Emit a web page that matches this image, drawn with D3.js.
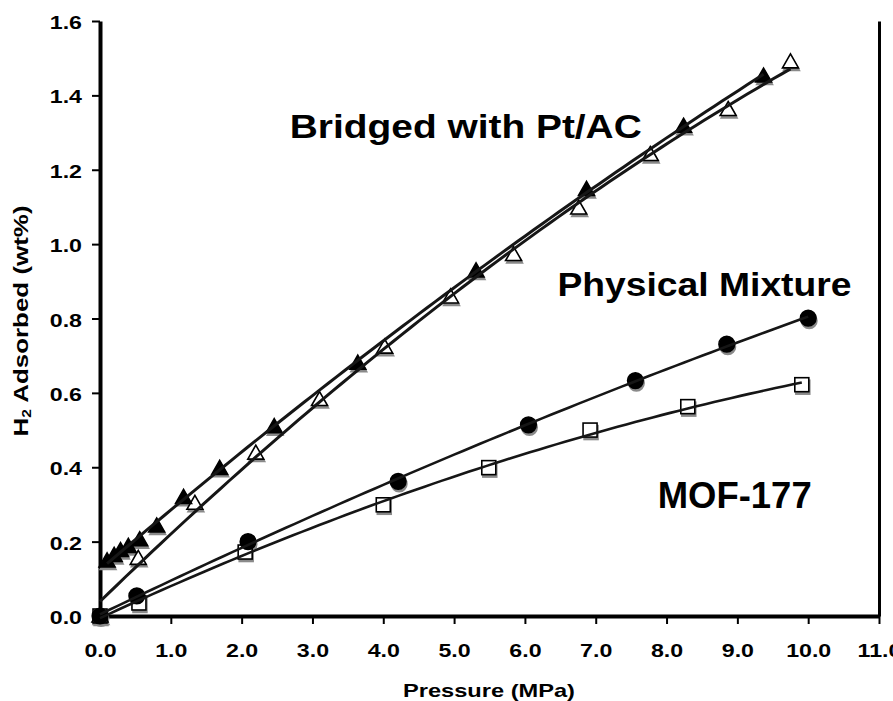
<!DOCTYPE html>
<html>
<head>
<meta charset="utf-8">
<script src="https://cdn.jsdelivr.net/npm/d3@7"></script>
<style>
  body { margin: 0; background: #fff; }
  svg { display: block; }
  text { font-family: "Liberation Sans", Arial, Helvetica, sans-serif; font-weight: bold; fill: #000; }
</style>
</head>
<body>
<svg id="chart" width="893" height="701"></svg>
<script>
// Hydrogen uptake isotherms: pressure (MPa) vs. H2 adsorbed (wt%)

const pressureTicks = [0, 1, 2, 3, 4, 5, 6, 7, 8, 9, 10, 11];
const uptakeTicks = [0, 0.2, 0.4, 0.6, 0.8, 1.0, 1.2, 1.4, 1.6];

// Bridged with Pt/AC, filled triangles
const bridgedAP = [0.10, 0.20, 0.29, 0.40, 0.56, 0.80, 1.18, 1.69, 2.46, 3.64, 5.31, 6.87, 8.24, 9.37];
const bridgedAW = [0.148, 0.163, 0.176, 0.187, 0.205, 0.242, 0.319, 0.397, 0.509, 0.680, 0.928, 1.147, 1.317, 1.452];

// Bridged with Pt/AC, open triangles
const bridgedBP = [0, 0.54, 1.34, 2.20, 3.10, 4.02, 4.95, 5.84, 6.76, 7.77, 8.87, 9.75];
const bridgedBW = [0, 0.155, 0.303, 0.438, 0.582, 0.723, 0.858, 0.972, 1.097, 1.241, 1.362, 1.490];

// Physical mixture, filled circles
const mixtureP = [0, 0.52, 2.09, 4.21, 6.05, 7.56, 8.85, 10.0];
const mixtureW = [0, 0.054, 0.200, 0.362, 0.514, 0.633, 0.731, 0.801];

// MOF-177, open squares
const mofP = [0, 0.55, 2.05, 4.00, 5.49, 6.92, 8.30, 9.91];
const mofW = [0, 0.035, 0.172, 0.299, 0.399, 0.500, 0.563, 0.622];

// Text labels placed in data coordinates
const labelText = ["Bridged with Pt/AC", "Physical Mixture", "MOF-177"];
const labelP = [2.68, 6.46, 7.875];
const labelW = [1.285, 0.860, 0.290];

const svg = d3.select("#chart");
const x = d3.scaleLinear().domain([0, 11]).range([100, 879]);
const y = d3.scaleLinear().domain([0, 1.6]).range([616, 21]);

// Stretch a text node horizontally by factor k (the typeface used here is wide)
function widen(sel, k) {
  sel.each(function () {
    const w = this.getComputedTextLength();
    d3.select(this).attr("textLength", w * k).attr("lengthAdjust", "spacingAndGlyphs");
  });
}

// Quadratic least-squares fit, returns f(p)
function quadFit(xs, ys) {
  let s = [0, 0, 0, 0, 0], t = [0, 0, 0];
  xs.forEach((xv, i) => {
    let p = 1;
    for (let k = 0; k < 5; k++) { s[k] += p; if (k < 3) t[k] += p * ys[i]; p *= xv; }
  });
  const M = [[s[0], s[1], s[2]], [s[1], s[2], s[3]], [s[2], s[3], s[4]]];
  const det = m => m[0][0] * (m[1][1] * m[2][2] - m[1][2] * m[2][1])
                 - m[0][1] * (m[1][0] * m[2][2] - m[1][2] * m[2][0])
                 + m[0][2] * (m[1][0] * m[2][1] - m[1][1] * m[2][0]);
  const D = det(M);
  const c = [0, 1, 2].map(j => det(M.map((row, r) => row.map((v, cidx) => cidx === j ? t[r] : v))) / D);
  return p => c[0] + c[1] * p + c[2] * p * p;
}

// ---- axes ----
const gx = svg.append("g").attr("transform", `translate(0,${y(0)})`)
  .call(d3.axisBottom(x).tickValues(pressureTicks).tickFormat(d3.format(".1f")).tickSize(8).tickSizeOuter(0));
gx.select(".domain").attr("stroke", "#000").attr("stroke-width", 4);
gx.selectAll(".tick line").attr("stroke", "#000").attr("stroke-width", 2);
gx.selectAll(".tick text").attr("y", 41).attr("dy", null)
  .style("font-size", "19px").call(widen, 1.22);

const gy = svg.append("g").attr("transform", `translate(${x(0)},0)`)
  .call(d3.axisLeft(y).tickValues(uptakeTicks).tickFormat(d3.format(".1f")).tickSize(8).tickSizeOuter(0));
gy.select(".domain").attr("stroke", "#000").attr("stroke-width", 4);
gy.selectAll(".tick line").attr("stroke", "#000").attr("stroke-width", 2);
gy.selectAll(".tick text").attr("x", -18).attr("dy", null).attr("y", 7.5)
  .style("font-size", "19px").call(widen, 1.22);

// right-hand frame line
const gr = svg.append("g").attr("transform", `translate(${x(11)},0)`)
  .call(d3.axisRight(y).tickValues([]).tickSizeOuter(0));
gr.select(".domain").attr("stroke", "#000").attr("stroke-width", 3);
gx.raise();

// axis titles
svg.append("text").attr("x", 489).attr("y", 697).attr("text-anchor", "middle")
  .style("font-size", "19px").text("Pressure (MPa)")
  .attr("textLength", 172).attr("lengthAdjust", "spacingAndGlyphs");

const yt = svg.append("text").attr("transform", "translate(28,321) rotate(-90)")
  .attr("text-anchor", "middle").style("font-size", "20px")
  .attr("textLength", 231).attr("lengthAdjust", "spacingAndGlyphs");
yt.append("tspan").text("H");
yt.append("tspan").attr("dy", 3).style("font-size", "12px").text("2");
yt.append("tspan").attr("dy", -3).text(" Adsorbed (wt%)");

// ---- markers (open squares first so the filled circles sit on top) ----
const series = [
  { P: mofP, W: mofW, shape: "square", fill: "#fff", from: "zero", lw: 2.6 },
  { P: bridgedBP, W: bridgedBW, shape: "tri", fill: "#fff", from: "zero", lw: 3 },
  { P: bridgedAP, W: bridgedAW, shape: "tri", fill: "#000", from: "first", lw: 3 },
  { P: mixtureP, W: mixtureW, shape: "circle", fill: "#000", from: "zero", lw: 2.6 }
];

const triPath = "M0,-8 L8,6 L-8,6 Z";
function drawMarkers(g, s, dx, dy, color, isShadow) {
  const pts = s.P.map((p, i) => [p, s.W[i]]);
  const sel = g.selectAll(null).data(pts).enter();
  let m;
  if (s.shape === "tri") {
    m = sel.append("path").attr("d", triPath)
      .attr("transform", d => `translate(${x(d[0]) + dx},${y(d[1]) + dy})`);
  } else if (s.shape === "circle") {
    m = sel.append("circle").attr("cx", d => x(d[0]) + dx).attr("cy", d => y(d[1]) + dy).attr("r", 7.8);
  } else {
    m = sel.append("rect").attr("x", d => x(d[0]) + dx - 7).attr("y", d => y(d[1]) + dy - 7)
      .attr("width", 14).attr("height", 14);
  }
  if (isShadow) {
    m.attr("fill", color).attr("stroke", color).attr("stroke-width", 1.5);
  } else {
    m.attr("fill", s.fill).attr("stroke", "#000").attr("stroke-width", 1.6);
  }
}

const gm = svg.append("g");
series.forEach(s => drawMarkers(gm, s, 1, 2.5, "#8a8a8a", true));
series.forEach(s => drawMarkers(gm, s, 0, 0, null, false));

// ---- fitted curves ----
const line = d3.line().x(d => x(d[0])).y(d => y(d[1]));
series.forEach(s => {
  const f = quadFit(s.P, s.W);
  const p0 = s.from === "first" ? s.P[0] : 0;
  const p1 = s.P[s.P.length - 1];
  const n = 80;
  const pts = d3.range(n + 1).map(i => { const p = p0 + (p1 - p0) * i / n; return [p, f(p)]; });
  svg.append("path").datum(pts).attr("d", line)
    .attr("fill", "none").attr("stroke", "#161616").attr("stroke-width", s.lw);
});

// ---- series labels ----
const labelLen = [352, 294, 154];
labelText.forEach((t, i) => {
  svg.append("text").attr("x", x(labelP[i])).attr("y", y(labelW[i]))
    .style("font-size", i === 2 ? "36px" : "34px").text(t)
    .attr("textLength", labelLen[i]).attr("lengthAdjust", "spacingAndGlyphs");
});
</script>
</body>
</html>
